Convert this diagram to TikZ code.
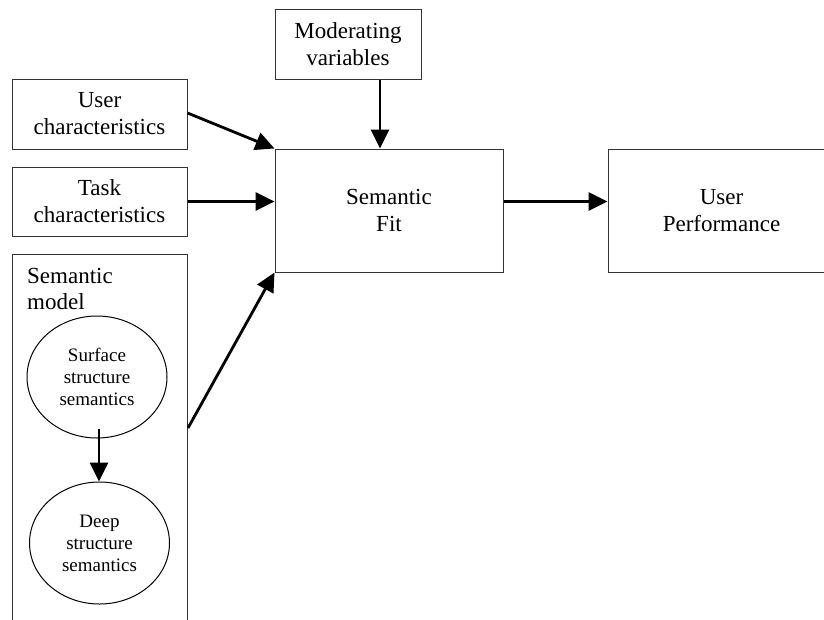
\documentclass[tikz,border=0pt]{standalone}
\usepackage{fontspec}
\setmainfont{Liberation Serif}
\usetikzlibrary{arrows.meta,shapes.geometric}
\begin{document}
\begin{tikzpicture}[x=1pt,y=-1pt,
  box/.style={draw=black!80, line width=1pt, rectangle, inner sep=0pt,
    align=center, font=\fontsize{23}{27}\selectfont},
  oval/.style={draw=black, line width=1pt, ellipse, inner sep=0pt,
    minimum width=140pt, minimum height=122pt, align=center,
    font=\fontsize{19}{22}\selectfont},
  link/.style={line width=2.8pt, -{Triangle[length=19pt,width=18pt]}}]
  \clip (0,0) rectangle (824,619);
  \fill[white] (0,0) rectangle (824,619);
  % boxes
  \node[box, minimum width=146pt, minimum height=70pt] (mod) at (348,44) {Moderating\\variables};
  \node[box, minimum width=175pt, minimum height=70pt] (user) at (99.5,114) {User\\characteristics};
  \node[box, minimum width=175pt, minimum height=69pt] (task) at (99.5,201.5) {Task\\characteristics};
  \node[box, minimum width=228pt, minimum height=123pt] (fit) at (389,210.5) {Semantic\\Fit};
  \node[box, minimum width=227pt, minimum height=123pt] (perf) at (721.5,210.5) {User\\Performance};
  % semantic model container (runs past the lower edge)
  \node[box, minimum width=175pt, minimum height=400pt, anchor=north west] (model) at (12,254) {};
  \node[anchor=base west, align=left, inner sep=0pt, font=\fontsize{23}{26}\selectfont] (modellabel) at (27,309) {Semantic\\model};
  \node[oval] (surf) at (97,377) {Surface\\structure\\semantics};
  \node[oval] (deep) at (99.5,543) {Deep\\structure\\semantics};
  % connectors
  \draw[link] (user.east) ++(0,-1) -- (fit.north west);
  \draw[link] (task.east) -- (task.east -| fit.west);
  \draw[link] (mod.south) ++(32,0) coordinate (modout) -- (modout |- fit.north);
  \draw[link] (model.north east) ++(0,174) -- (fit.south west);
  \draw[link] (task.east -| fit.east) -- (task.east -| perf.west);
  \draw[link] (surf.south) ++(2,-10) coordinate (surfout) -- (surfout |- deep.north);
\end{tikzpicture}
\end{document}
